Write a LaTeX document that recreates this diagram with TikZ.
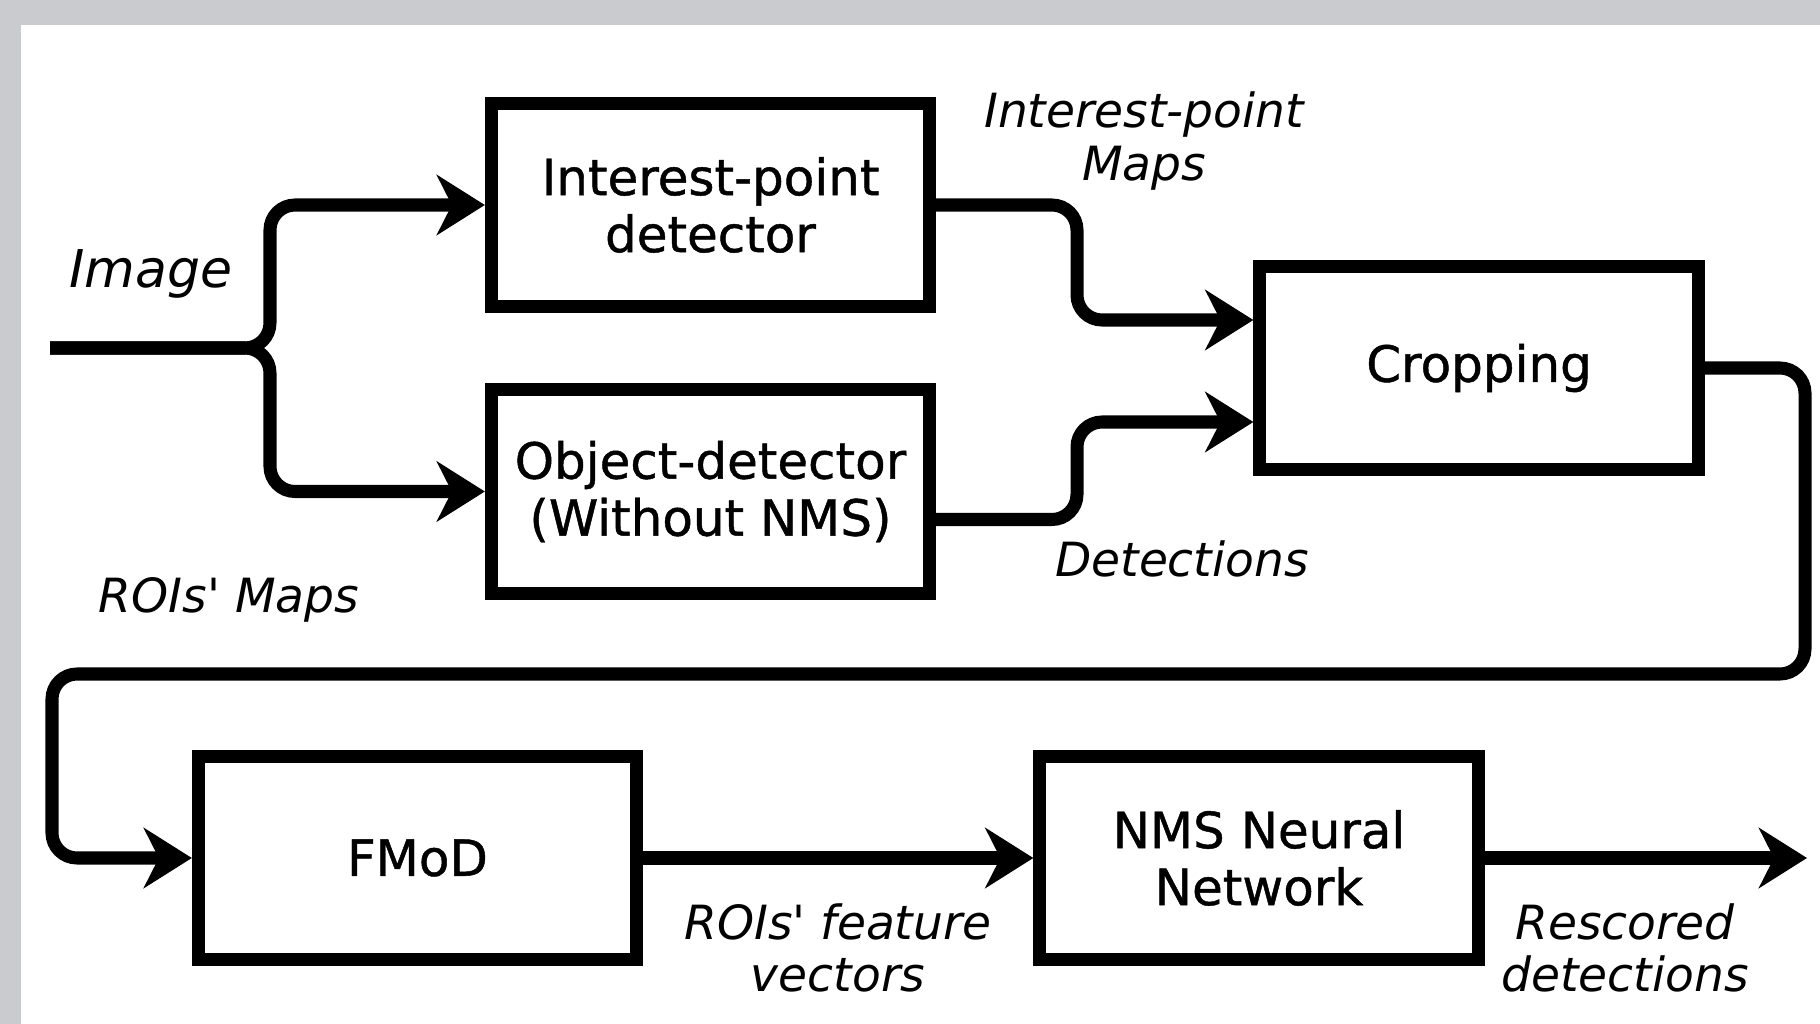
\documentclass[tikz,border=0pt]{standalone}
\usepackage{fontspec}
\setmainfont{DejaVu Sans}[Ligatures=TeXOff]
\newfontfamily\stagefont{DejaVu Sans}[Ligatures=TeXOff, FakeBold=0.9]
\usetikzlibrary{arrows.meta,calc}
\definecolor{framegray}{RGB}{202,203,206}
\begin{document}
\begin{tikzpicture}[x=0.01cm,y=-0.01cm,
  stage/.style={draw, line width=3.7pt, minimum width=4.38cm, minimum height=2.03cm,
    align=center, inner sep=0pt, font=\stagefont\fontsize{14.2pt}{16.2pt}\selectfont},
  lbl/.style={align=center, inner sep=0pt, font=\fontsize{13.4pt}{14.8pt}\selectfont\itshape},
  flow/.style={line width=3.7pt, rounded corners=0.25cm},
  tip/.style={-{Stealth[length=0.48cm,width=0.6cm,inset=0.15cm]}}
]
% frame and canvas
\useasboundingbox (0,0) rectangle (1820,1024);
\fill[framegray] (0,0) rectangle (1820,1024);
\fill[white] (21,25) rectangle (1820,1024);

% processing stages
\node[stage] (ipd)  at (710.5,205)   {Interest-point\\detector};
\node[stage] (obj)  at (710.5,491.5) {Object-detector\\(Without NMS)};
\node[stage] (crop) at (1479,368)    {Cropping};
\node[stage] (fmod) at (417.5,858)   {FMoD};
\node[stage] (nms)  at (1259,858)    {NMS Neural\\Network};

% free ends
\coordinate (in)  at (50,348);
\coordinate (out) at (1807,858);

% image split into both detectors
\draw[flow,tip] (in) -- (270,348) -- (270,205) -- (ipd.west);
\draw[flow,tip] (in) -- (270,348) -- (270,491.5) -- (obj.west);

% detector outputs into cropping
\draw[flow,tip] (ipd.east) -- (1077,205) -- (1077,320) -- ($(crop.west)+(0,-48)$);
\draw[flow,tip] ($(obj.east)+(0,28)$) -- (1077,519.5) -- (1077,422) -- ($(crop.west)+(0,54)$);

% cropped ROIs back to FMoD
\draw[flow,tip] (crop.east) -- (1805,368) -- (1805,674) -- (52,674) -- (52,858) -- (fmod.west);

% features to rescoring network and output
\draw[flow,tip] (fmod.east) -- (nms.west);
\draw[flow,tip] (nms.east) -- (out);

% labels
\node[lbl, font=\fontsize{14.8pt}{16pt}\selectfont\itshape] (imgl) at (151,274) {Image};
\node[lbl] (ipm)  at (1144,141) {Interest-point\\Maps};
\node[lbl] (det)  at (1182,559) {Detections};
\node[lbl] (roim) at (229,600)  {ROIs' Maps};
\node[lbl] (roif) at (838,948)  {ROIs' feature\\vectors};
\node[lbl] (resc) at (1625,948) {Rescored\\detections};
\end{tikzpicture}
\end{document}
